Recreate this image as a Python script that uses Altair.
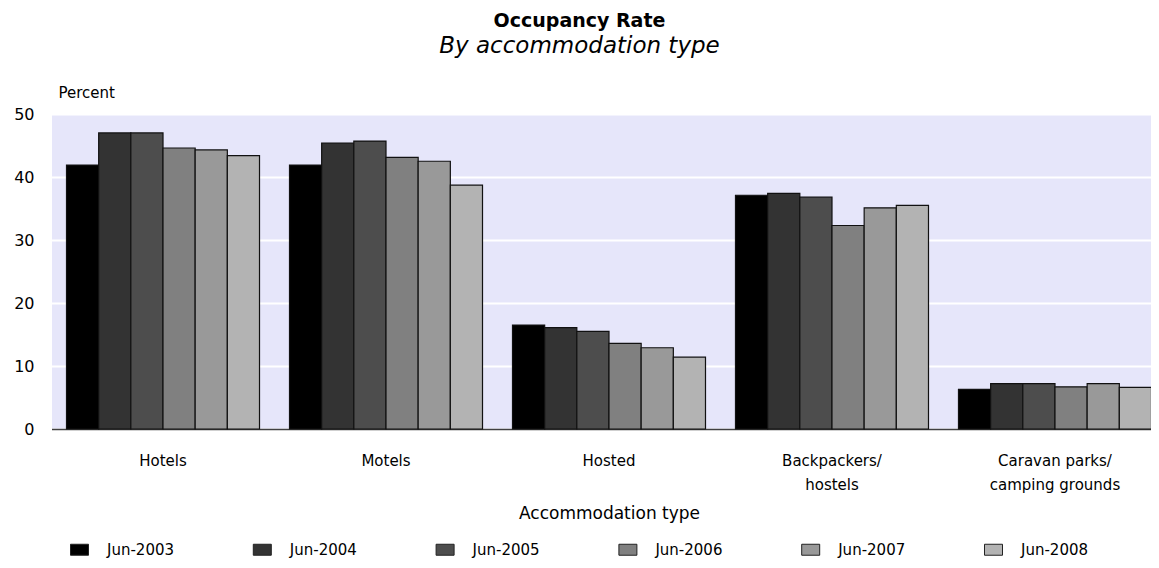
import altair as alt
import pandas as pd

categories = ["Hotels", "Motels", "Hosted", "Backpackers/ hostels", "Caravan parks/ camping grounds"]
periods = ["Jun-2003", "Jun-2004", "Jun-2005", "Jun-2006", "Jun-2007", "Jun-2008"]
jun2003 = [41.9, 41.9, 16.5, 37.1, 6.3]
jun2004 = [47.0, 45.4, 16.1, 37.4, 7.2]
jun2005 = [47.0, 45.7, 15.5, 36.8, 7.2]
jun2006 = [44.6, 43.1, 13.6, 32.3, 6.7]
jun2007 = [44.3, 42.5, 12.9, 35.1, 7.2]
jun2008 = [43.4, 38.7, 11.4, 35.5, 6.6]
colors = ["#000000", "#333333", "#4d4d4d", "#808080", "#999999", "#b3b3b3"]

series = [jun2003, jun2004, jun2005, jun2006, jun2007, jun2008]
rows = []
for p, vals in zip(periods, series):
    for c, v in zip(categories, vals):
        rows.append({"type": c, "period": p, "value": v})
df = pd.DataFrame(rows)

FONT = "DejaVu Sans"

chart = alt.Chart(df).mark_bar(stroke="#111111", strokeWidth=1.2).encode(
    x=alt.X(
        "type:N",
        sort=categories,
        scale=alt.Scale(range=[-0.5, 1114.5], paddingInner=0.1345, paddingOuter=0.0673),
        axis=alt.Axis(
            title="Accommodation type",
            labelAngle=0,
            labelExpr="split(replace(datum.label, '/ ', '/|'), '|')",
            labelFont=FONT, labelFontSize=15, labelColor="#000",
            labelPadding=24, labelLineHeight=24, labelBaseline="top",
            ticks=False, grid=False,
            domain=True, domainColor="#404040", domainWidth=1.5,
            titleFont=FONT, titleFontSize=17, titleFontWeight="normal", titleColor="#000",
            titlePadding=13,
        ),
    ),
    xOffset=alt.XOffset("period:N", sort=periods, scale=alt.Scale(paddingInner=0, paddingOuter=0)),
    y=alt.Y(
        "value:Q",
        scale=alt.Scale(domain=[0, 50], nice=False),
        axis=alt.Axis(
            values=[0, 10, 20, 30, 40, 50],
            title="Percent", titleAngle=0, titleAlign="left", titleBaseline="alphabetic",
            titleX=6, titleY=-17,
            titleFont=FONT, titleFontSize=15, titleFontWeight="normal", titleColor="#000",
            labelFont=FONT, labelFontSize=16, labelColor="#000", labelPadding=18,
            ticks=False, domain=False,
            grid=True, gridColor="#ffffff", gridWidth=2,
        ),
    ),
    color=alt.Color(
        "period:N",
        sort=periods,
        scale=alt.Scale(domain=periods, range=colors),
        legend=alt.Legend(
            title=None, orient="none", legendX=18, legendY=426,
            direction="horizontal", columns=6, columnPadding=75.8,
            symbolType="M-1,-0.611H1V0.611H-1Z", symbolSize=324,
            symbolStrokeColor="#222222", symbolStrokeWidth=1, symbolOpacity=1,
            labelFont=FONT, labelFontSize=15, labelColor="#000", labelOffset=18,
            padding=0,
        ),
    ),
).properties(
    width=1099,
    height=315,
    autosize=alt.AutoSizeParams(type="none"),
    padding={"left": 44, "top": 106, "right": 0, "bottom": 130},
    title=alt.TitleParams(
        "Occupancy Rate",
        subtitle="By accommodation type",
        font=FONT, fontSize=19, fontWeight="bold", color="#000",
        subtitleFont=FONT, subtitleFontSize=23, subtitleFontStyle="italic", subtitleColor="#000",
        subtitlePadding=4,
        anchor="middle", dx=-22, dy=-23,
    ),
).configure_view(
    fill="#e6e6fa", strokeWidth=0
)

chart.save("out.html", embed_options={"renderer": "svg", "actions": False})
